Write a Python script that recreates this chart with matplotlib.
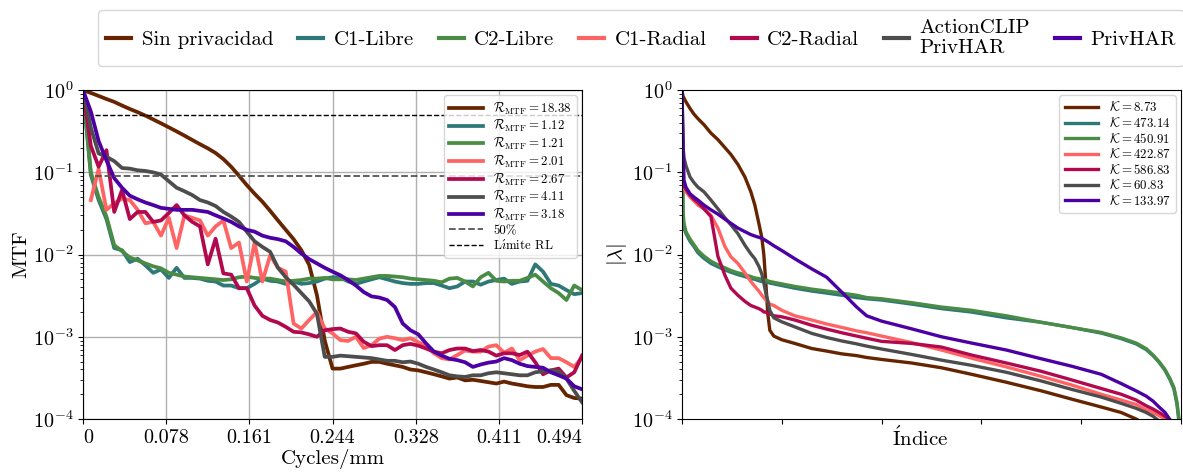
import numpy as np
import matplotlib
matplotlib.use("Agg")
import matplotlib.pyplot as plt
from matplotlib.lines import Line2D

plt.rcParams['font.family'] = ['cmr10', 'DejaVu Serif']
plt.rcParams['mathtext.fontset'] = 'cm'
plt.rcParams['axes.formatter.use_mathtext'] = True
plt.rcParams['axes.unicode_minus'] = False

# ---------------- data ----------------
series_names = ["Sin privacidad", "C1-Libre", "C2-Libre", "C1-Radial", "C2-Radial",
                "ActionCLIP\nPrivHAR", "PrivHAR"]
colors = ["#662500", "#2e7878", "#4a8c46", "#ff6464", "#b2084e", "#4d4d4d", "#4c00a4"]
r_mtf = ["18.38", "1.12", "1.21", "2.01", "2.67", "4.11", "3.18"]
k_cond = ["8.73", "473.14", "450.91", "422.87", "586.83", "60.83", "133.97"]

# MTF: frequency samples (cycles/mm), k/128 for k = 0..64
freq = np.linspace(0, 0.5, 65)
freq_tick_labels = ["0", "0.078", "0.161", "0.244", "0.328", "0.411", "0.494"]

mtf_sin = [1.0, 0.925, 0.85, 0.78, 0.72, 0.65, 0.59, 0.54, 0.49, 0.44, 0.395, 0.353, 0.315,
           0.28, 0.248, 0.22, 0.196, 0.172, 0.145, 0.117, 0.091, 0.070, 0.055, 0.044, 0.034,
           0.026, 0.020, 0.0154, 0.0113, 0.0075, 0.0032, 9.0e-4, 4.1e-4,
           4.1e-4, 4.3e-4, 4.5e-4, 4.7e-4, 4.95e-4, 4.95e-4, 4.7e-4, 4.5e-4, 4.3e-4, 4.0e-4,
           3.9e-4, 3.7e-4, 3.5e-4, 3.3e-4, 3.1e-4, 3.2e-4,
           2.95e-4, 3.0e-4, 2.9e-4, 2.8e-4, 2.7e-4, 2.85e-4, 2.7e-4, 2.6e-4, 2.5e-4, 2.45e-4,
           2.45e-4, 2.6e-4, 2.6e-4, 1.95e-4, 1.8e-4, 1.77e-4]
mtf_c1_libre = [1.0, 0.093, 0.046, 0.027, 0.012, 0.0113, 0.0081, 0.0089, 0.0074, 0.0060,
                0.0066, 0.0052, 0.0069, 0.0052, 0.0052, 0.0051, 0.0048,
                0.0047, 0.0042, 0.0042, 0.0039, 0.0039, 0.0044, 0.0051, 0.0048, 0.0047,
                0.0044, 0.0047, 0.0044, 0.0045, 0.0047, 0.0051, 0.0053,
                0.0053, 0.0047, 0.0044, 0.0047, 0.0050, 0.0053, 0.0050, 0.0047, 0.0045,
                0.0044, 0.0044, 0.0045, 0.0045, 0.0042, 0.0039, 0.0041,
                0.0047, 0.0047, 0.0043, 0.0047, 0.0049, 0.0051, 0.0044, 0.0047, 0.0048,
                0.0076, 0.0062, 0.0044, 0.0042, 0.0037, 0.0033, 0.0034]
mtf_c2_libre = [1.0, 0.10, 0.05, 0.029, 0.013, 0.011, 0.0092, 0.0085, 0.0078, 0.0072,
                0.0068, 0.0060, 0.0057, 0.0054, 0.0053, 0.0052, 0.0051,
                0.0050, 0.0049, 0.0050, 0.0053, 0.0054, 0.0052, 0.0051, 0.0051, 0.0049,
                0.0047, 0.0048, 0.0049, 0.0051, 0.0051, 0.0052, 0.0050,
                0.0050, 0.0050, 0.0049, 0.0051, 0.0053, 0.0055, 0.0055, 0.0054, 0.0053,
                0.0051, 0.0050, 0.0049, 0.0048, 0.0046, 0.0051, 0.0052,
                0.0047, 0.0041, 0.0053, 0.0060, 0.0048, 0.0047, 0.0048, 0.0048, 0.0052,
                0.0057, 0.0047, 0.0039, 0.0034, 0.0028, 0.0042, 0.0037]
mtf_c1_radial = [np.nan, 0.046, 0.11, 0.035, 0.042, 0.048, 0.046, 0.035, 0.024, 0.025,
                 0.017, 0.028, 0.012, 0.030, 0.028, 0.026, 0.017,
                 0.022, 0.026, 0.012, 0.014, 0.0047, 0.014, 0.0047, 0.0098, 0.0069,
                 0.0062, 0.00145, 0.00126, 0.0016, 0.0020, 0.00126, 0.0011,
                 9.1e-4, 8.9e-4, 0.0010, 7.3e-4, 7.9e-4, 9.5e-4, 0.0010, 9.6e-4, 9.1e-4,
                 9.6e-4, 8.6e-4, 7.7e-4, 6.3e-4, 5.5e-4, 5.3e-4, 6.0e-4,
                 6.8e-4, 6.6e-4, 6.6e-4, 7.6e-4, 7.9e-4, 6.4e-4, 7.2e-4, 5.2e-4, 5.9e-4,
                 6.6e-4, 7.1e-4, 5.5e-4, 5.5e-4, 4.9e-4, 4.3e-4, 5.6e-4]
mtf_c2_radial = [1.0, 0.21, 0.117, 0.186, 0.033, 0.061, 0.027, 0.033, 0.033, 0.025,
                 0.026, 0.032, 0.040, 0.030, 0.025, 0.022, 0.0076,
                 0.0156, 0.0059, 0.0057, 0.0039, 0.0039, 0.0024, 0.0018, 0.0016, 0.00149,
                 0.00132, 0.00115, 0.00113, 0.00107, 0.0010, 0.0012, 0.00124,
                 0.00126, 0.00115, 0.0011, 8.7e-4, 7.7e-4, 7.9e-4, 7.9e-4, 6.9e-4, 7.9e-4,
                 8.2e-4, 7.8e-4, 7.2e-4, 6.6e-4, 6.3e-4, 6.9e-4, 7.2e-4,
                 7.2e-4, 6.7e-4, 6.9e-4, 6.6e-4, 5.9e-4, 6.3e-4, 6.3e-4, 6.0e-4, 6.6e-4,
                 4.9e-4, 3.5e-4, 3.9e-4, 4.1e-4, 3.2e-4, 3.7e-4, 5.9e-4]
mtf_actionclip = [1.0, 0.35, 0.17, 0.155, 0.137, 0.113, 0.111, 0.106, 0.104, 0.10,
                  0.094, 0.078, 0.065, 0.059, 0.053, 0.046, 0.043,
                  0.039, 0.033, 0.029, 0.025, 0.019, 0.0145, 0.0124, 0.0108, 0.0069,
                  0.0053, 0.0043, 0.0034, 0.0027, 0.0019, 5.7e-4, 5.7e-4,
                  5.9e-4, 5.8e-4, 5.7e-4, 5.6e-4, 5.5e-4, 5.3e-4, 5.1e-4, 5.1e-4, 4.9e-4,
                  5.0e-4, 4.7e-4, 4.3e-4, 4.0e-4, 3.7e-4, 3.4e-4, 3.3e-4,
                  3.25e-4, 3.4e-4, 3.4e-4, 3.6e-4, 3.7e-4, 3.6e-4, 3.5e-4, 3.4e-4, 3.4e-4,
                  3.7e-4, 3.8e-4, 3.9e-4, 3.8e-4, 3.1e-4, 2.2e-4, 1.6e-4]
mtf_privhar = [1.0, 0.55, 0.24, 0.14, 0.085, 0.065, 0.052, 0.047, 0.043, 0.040,
               0.037, 0.036, 0.035, 0.035, 0.035, 0.034, 0.033,
               0.030, 0.0275, 0.025, 0.022, 0.020, 0.019, 0.017, 0.016, 0.0154,
               0.0145, 0.0124, 0.0103, 0.0088, 0.0078, 0.0069, 0.0062,
               0.0056, 0.0049, 0.0042, 0.0035, 0.0031, 0.0030, 0.0028, 0.0023, 0.00145,
               0.0012, 0.00107, 8.3e-4, 6.6e-4, 5.9e-4, 5.4e-4, 5.2e-4,
               4.9e-4, 4.3e-4, 4.6e-4, 4.85e-4, 5.0e-4, 5.5e-4, 5.2e-4, 4.7e-4, 4.4e-4,
               4.3e-4, 4.2e-4, 3.7e-4, 3.4e-4, 3.1e-4, 2.5e-4, 2.3e-4]
mtf_series = [mtf_sin, mtf_c1_libre, mtf_c2_libre, mtf_c1_radial, mtf_c2_radial,
              mtf_actionclip, mtf_privhar]

level_50 = 0.5
level_rl = 0.09

# Eigenvalue spectra: sample indices and |lambda|
eig_idx = [0, 1, 2, 4, 8, 12, 16, 22, 29, 36, 43, 49, 56, 63, 69, 73, 77, 80, 82, 84, 86,
           88, 92, 100, 113, 130, 145, 160, 175, 185, 200, 230, 260, 290, 325, 360, 390,
           420, 440, 455, 465, 472, 478, 484, 489, 493, 496, 498, 499]
eig_sin = [1.0, 0.85, 0.80, 0.72, 0.60, 0.51, 0.45, 0.38, 0.30, 0.25, 0.20, 0.165, 0.125,
           0.088, 0.058, 0.040, 0.024, 0.016, 0.010, 0.0045, 0.0019, 0.0012, 0.00102,
           9.2e-4, 8.3e-4, 7.2e-4, 6.7e-4, 6.2e-4, 5.9e-4, 5.6e-4, 5.3e-4, 4.8e-4, 4.2e-4,
           3.5e-4, 2.8e-4, 2.2e-4, 1.75e-4, 1.4e-4, 1.2e-4, 1.0e-4, 8.5e-5, 7e-5, 6e-5,
           5e-5, 4e-5, 3e-5, 2e-5, 1.5e-5, 1e-5]
eig_c1_libre = [1.0, 0.028, 0.021, 0.018, 0.0145, 0.0125, 0.0105, 0.0090, 0.0078, 0.0071,
                0.0065, 0.0061, 0.0057, 0.0054, 0.0051, 0.0050, 0.0048, 0.0047, 0.0047,
                0.0046, 0.0046, 0.0045, 0.0044, 0.0042, 0.0039, 0.0036, 0.0034, 0.0032,
                0.0030, 0.0029, 0.0028, 0.0025, 0.0022, 0.0020, 0.0017, 0.0015, 0.0013,
                0.00111, 9.5e-4, 8.2e-4, 7.0e-4, 5.9e-4, 4.9e-4, 3.9e-4, 3.0e-4, 2.3e-4,
                1.5e-4, 9e-5, 5e-5]
eig_c2_libre = [1.0, 0.035, 0.024, 0.019, 0.0155, 0.0132, 0.0112, 0.0096, 0.0083, 0.0075,
                0.0069, 0.0064, 0.0060, 0.0057, 0.0054, 0.0052, 0.0051, 0.0050, 0.0049,
                0.0049, 0.0048, 0.0047, 0.0046, 0.0044, 0.0041, 0.0038, 0.0036, 0.0034,
                0.0032, 0.0030, 0.0029, 0.0026, 0.0023, 0.0021, 0.0018, 0.0015, 0.0013,
                0.00113, 9.7e-4, 8.4e-4, 7.2e-4, 6.0e-4, 5.0e-4, 4.0e-4, 3.1e-4, 2.4e-4,
                1.6e-4, 1.0e-4, 6e-5]
eig_c1_radial = [1.0, 0.07, 0.065, 0.058, 0.050, 0.045, 0.040, 0.036, 0.030, 0.021, 0.0125,
                 0.0094, 0.0078, 0.0060, 0.0047, 0.0041, 0.0036, 0.0032, 0.0030, 0.0028,
                 0.0027, 0.0025, 0.0024, 0.0021, 0.0018, 0.0016, 0.00143, 0.0013, 0.00118,
                 0.00112, 0.00102, 8.5e-4, 6.9e-4, 5.5e-4, 4.3e-4, 3.3e-4, 2.6e-4, 2.0e-4,
                 1.7e-4, 1.5e-4, 1.3e-4, 1.2e-4, 1.1e-4, 1.0e-4, 8e-5, 6e-5, 4e-5, 3e-5,
                 2e-5]
eig_c2_radial = [1.0, 0.076, 0.068, 0.062, 0.053, 0.047, 0.043, 0.036, 0.029, 0.0095,
                 0.0056, 0.0039, 0.0032, 0.0027, 0.0024, 0.0023, 0.0022, 0.0021, 0.0020,
                 0.0020, 0.0019, 0.0019, 0.0018, 0.00175, 0.0016, 0.00138, 0.00124,
                 0.00112, 0.00102, 9.6e-4, 8.8e-4, 8.3e-4, 7.5e-4, 6.0e-4, 4.8e-4, 3.8e-4,
                 3.0e-4, 2.35e-4, 2.0e-4, 1.7e-4, 1.45e-4, 1.32e-4, 1.2e-4, 1.08e-4,
                 9.5e-5, 7e-5, 5e-5, 3e-5, 2e-5]
eig_actionclip = [1.0, 0.21, 0.15, 0.12, 0.088, 0.075, 0.066, 0.058, 0.046, 0.036, 0.028,
                  0.023, 0.018, 0.013, 0.0102, 0.0089, 0.0072, 0.0058, 0.0045, 0.0034,
                  0.0027, 0.0021, 0.0017, 0.00152, 0.00132, 0.00110, 9.8e-4, 8.9e-4,
                  8.2e-4, 7.7e-4, 7.1e-4, 6.1e-4, 5.2e-4, 4.5e-4, 3.7e-4, 2.9e-4, 2.3e-4,
                  1.85e-4, 1.55e-4, 1.35e-4, 1.2e-4, 1.08e-4, 9.5e-5, 8e-5, 6e-5, 4e-5,
                  3e-5, 2e-5, 1e-5]
eig_privhar = [1.0, 0.25, 0.080, 0.066, 0.055, 0.050, 0.046, 0.040, 0.035, 0.031, 0.027,
               0.024, 0.021, 0.019, 0.0175, 0.0168, 0.0162, 0.0158, 0.0153, 0.0148, 0.0143,
               0.0138, 0.0128, 0.0112, 0.0089, 0.0067, 0.0053, 0.0035, 0.0023, 0.0018,
               0.00155, 0.00125, 0.00100, 8.4e-4, 6.9e-4, 5.4e-4, 4.4e-4, 3.5e-4, 2.7e-4,
               2.2e-4, 1.9e-4, 1.65e-4, 1.4e-4, 1.2e-4, 9.8e-5, 7e-5, 5e-5, 3e-5, 2e-5]
eig_series = [eig_sin, eig_c1_libre, eig_c2_libre, eig_c1_radial, eig_c2_radial,
              eig_actionclip, eig_privhar]

# ---------------- figure ----------------
fig = plt.figure(figsize=(11.83, 4.72), dpi=100)
ax1 = fig.add_axes([0.0702, 0.1123, 0.4218, 0.6967])
ax2 = fig.add_axes([0.5765, 0.1123, 0.4218, 0.6967])

for vals, c, r in zip(mtf_series, colors, r_mtf):
    ax1.plot(freq, vals, color=c, lw=2.7,
             label=r'$\mathcal{R}_{\mathrm{MTF}} = ' + r + '$')
ax1.hlines(level_rl, 0.012, 0.5, colors='#555555', linestyles='--', lw=1.3, label='50%')
ax1.hlines(level_50, 0.012, 0.5, colors='black', linestyles='--', lw=1.0,
           label=r'L$\mathrm{\acute{\imath}}$mite RL')

ax1.set_yscale('log')
ax1.set_ylim(1e-4, 1)
ax1.set_xlim(0, 0.5)
ax1.set_xticks(np.linspace(0, 0.5, 7))
ax1.set_xticklabels(freq_tick_labels)
tl = ax1.get_xticklabels()
tl[0].set_ha('left')
tl[-1].set_ha('right')
ax1.grid(True, which='major', color='#b0b0b0', lw=1.0)
ax1.set_axisbelow(True)
ax1.tick_params(labelsize=14.5)
ax1.set_xlabel('Cycles/mm', fontsize=15, labelpad=2)
ax1.set_ylabel('MTF', fontsize=15, labelpad=2)
ax1.legend(loc='upper right', fontsize=9.3, handlelength=2.6, labelspacing=0.12,
           borderpad=0.4, framealpha=0.8, borderaxespad=0.4)

for vals, c, k in zip(eig_series, colors, k_cond):
    ax2.plot(eig_idx, vals, color=c, lw=2.4, label=r'$\mathcal{K} = ' + k + '$')
ax2.set_yscale('log')
ax2.set_ylim(1e-4, 1)
ax2.set_xlim(0, 500)
ax2.set_xticks([0, 100, 200, 300, 400, 500])
ax2.set_xticklabels([])
ax2.tick_params(labelsize=14.5)
ax2.set_xlabel(r'$\mathrm{\acute{I}ndice}$', fontsize=15)
ax2.xaxis.set_label_coords(0.478, -0.02)
ax2.set_ylabel(r'$|\lambda|$', fontsize=15, labelpad=2)
ax2.legend(loc='upper right', fontsize=9.3, handlelength=2.6, labelspacing=0.12,
           borderpad=0.4, framealpha=0.8, borderaxespad=0.4)

handles = [Line2D([], [], color=c, lw=3) for c in colors]
fig.legend(handles, series_names, loc='upper center', bbox_to_anchor=(0.542, 1.0),
           ncol=7, fontsize=15, handlelength=1.2, columnspacing=1.2, handletextpad=0.5,
           frameon=True, fancybox=True, edgecolor='#cccccc')

fig.savefig('out.png', dpi=100)
